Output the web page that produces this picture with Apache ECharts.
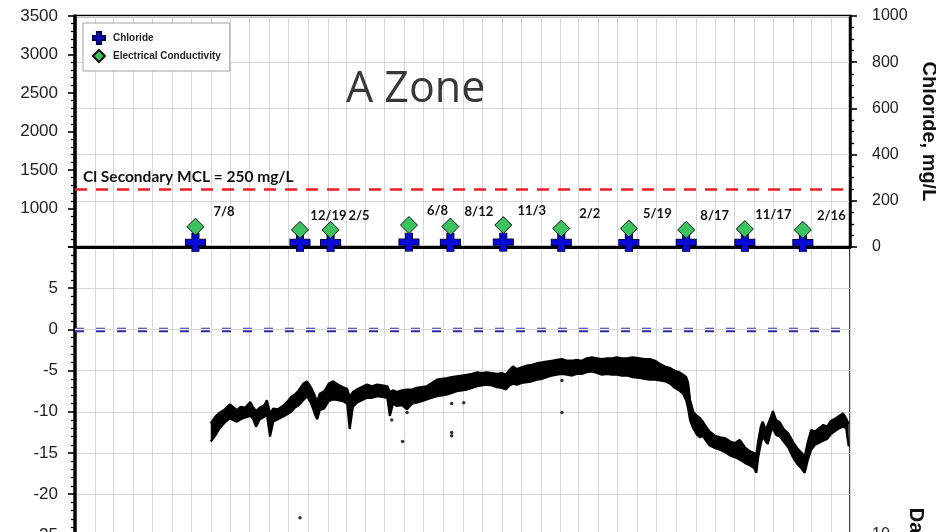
<!DOCTYPE html>
<html>
<head>
<meta charset="utf-8">
<script src="https://cdn.jsdelivr.net/npm/echarts@6/dist/echarts.min.js"></script>
<style>
  html, body { margin: 0; padding: 0; background: #fff; }
  #chart { width: 936px; height: 532px; }
</style>
</head>
<body>
<div id="chart"></div>
<script>
// Sampling events (top panel)
const sampleDates = ['2016-07-08', '2016-12-19', '2017-02-05', '2017-06-08', '2017-08-12', '2017-11-03',
                     '2018-02-02', '2018-05-19', '2018-08-17', '2018-11-17', '2019-02-16'];
const conductivity = [763, 722, 722, 785, 765, 785, 740, 740, 722, 733, 722];   // left axis
const chloride     = [20, 20, 19, 21, 20, 21, 20, 19, 20, 20, 19];              // mg/L, right axis
const chlorideMCL = 250;

// Continuous water level record (daily high / low envelope)
const levelDates = [
  '2016-08-01','2016-08-08','2016-08-15','2016-08-23','2016-08-31','2016-09-11','2016-09-17','2016-09-24',
  '2016-10-02','2016-10-06','2016-10-11','2016-10-17','2016-10-24','2016-10-28','2016-11-02','2016-11-07',
  '2016-11-14','2016-11-22','2016-11-29','2016-12-05','2016-12-11','2016-12-17','2016-12-24','2016-12-30',
  '2017-01-05','2017-01-11','2017-01-15','2017-01-19','2017-01-26','2017-02-02','2017-02-09','2017-02-17',
  '2017-02-24','2017-03-03','2017-03-07','2017-03-12','2017-03-18','2017-03-26','2017-04-03','2017-04-11',
  '2017-04-19','2017-04-27','2017-05-05','2017-05-09','2017-05-14','2017-05-20','2017-05-28','2017-06-05',
  '2017-06-13','2017-06-20','2017-06-28','2017-07-06','2017-07-14','2017-07-22','2017-07-30','2017-08-07',
  '2017-08-14','2017-08-22','2017-08-30','2017-09-07','2017-09-15','2017-09-23','2017-09-30','2017-10-08',
  '2017-10-16','2017-10-24','2017-11-01','2017-11-07','2017-11-13','2017-11-18','2017-11-24','2017-12-02',
  '2017-12-10','2017-12-18','2017-12-26','2018-01-03','2018-01-10','2018-01-18','2018-01-26','2018-02-03',
  '2018-02-11','2018-02-19','2018-02-26','2018-03-06','2018-03-14','2018-03-22','2018-03-30','2018-04-07',
  '2018-04-15','2018-04-22','2018-04-30','2018-05-08','2018-05-16','2018-05-25','2018-06-05','2018-06-13',
  '2018-06-21','2018-06-29','2018-07-07','2018-07-15','2018-07-23','2018-07-30','2018-08-06','2018-08-12',
  '2018-08-17','2018-08-20','2018-08-23','2018-08-28','2018-09-03','2018-09-08','2018-09-12','2018-09-17',
  '2018-09-23','2018-10-01','2018-10-09','2018-10-17','2018-10-25','2018-11-01','2018-11-09','2018-11-17',
  '2018-11-25','2018-12-01','2018-12-05','2018-12-08','2018-12-12','2018-12-15','2018-12-20','2018-12-23',
  '2018-12-28','2018-12-31','2019-01-05','2019-01-11','2019-01-17','2019-01-24','2019-02-01','2019-02-07',
  '2019-02-13','2019-02-19','2019-02-24','2019-03-01','2019-03-07','2019-03-13','2019-03-20','2019-03-26',
  '2019-04-01','2019-04-08','2019-04-14','2019-04-20','2019-04-25','2019-04-29'
];
const levelHigh = [
  -11.4,-10.6,-10.1,-9.7,-9.1,-9.8,-9.4,-9.5,
  -8.8,-9.4,-9.9,-9.5,-9.2,-8.6,-10.2,-9.6,
  -9.7,-9.3,-8.8,-8.2,-7.9,-7.4,-6.6,-6.3,
  -7.0,-8.0,-8.8,-7.8,-7.5,-6.6,-6.3,-6.7,
  -7.0,-7.2,-8.2,-7.6,-7.3,-7.0,-6.7,-6.9,
  -6.7,-6.8,-6.9,-7.6,-7.4,-7.6,-7.4,-7.3,
  -7.3,-7.1,-7.0,-6.9,-6.5,-6.1,-6.0,-5.9,
  -5.8,-5.7,-5.6,-5.5,-5.4,-5.2,-5.3,-5.2,
  -5.3,-5.4,-5.3,-5.5,-4.9,-4.5,-4.8,-4.6,
  -4.4,-4.3,-4.1,-4.0,-3.9,-3.8,-3.7,-3.6,
  -3.8,-3.8,-3.7,-3.8,-3.5,-3.4,-3.5,-3.6,
  -3.5,-3.5,-3.4,-3.5,-3.5,-3.4,-3.5,-3.6,
  -3.6,-3.8,-4.2,-4.5,-4.7,-5.0,-5.2,-5.5,
  -5.8,-6.5,-8.5,-10.0,-10.5,-10.8,-11.2,-11.8,
  -12.4,-12.9,-13.1,-13.2,-13.6,-13.8,-13.4,-14.3,
  -14.8,-15.0,-15.2,-13.5,-11.8,-11.2,-12.2,-12.3,
  -10.6,-9.9,-11.0,-11.3,-12.1,-12.6,-13.7,-14.4,
  -14.9,-15.4,-13.6,-12.2,-12.4,-12.0,-11.6,-11.8,
  -11.1,-10.8,-10.5,-10.2,-10.8,-11.5
];
const levelLow = [
  -13.6,-12.9,-12.0,-11.3,-10.8,-11.2,-10.9,-10.7,
  -10.5,-10.8,-11.8,-10.9,-10.6,-10.3,-13.0,-11.2,
  -10.9,-10.6,-10.3,-10.0,-9.5,-9.2,-8.6,-8.1,
  -8.9,-10.2,-10.9,-9.8,-9.6,-8.7,-8.5,-8.6,
  -8.7,-9.0,-12.1,-9.4,-8.9,-8.6,-8.3,-8.3,
  -8.1,-8.2,-8.3,-10.5,-9.0,-9.3,-9.2,-9.7,
  -9.0,-8.9,-8.7,-8.5,-8.3,-8.1,-8.0,-7.9,
  -7.7,-7.5,-7.4,-7.3,-7.1,-6.9,-6.8,-6.7,
  -6.8,-7.0,-7.1,-7.3,-6.8,-6.6,-6.7,-6.5,
  -6.4,-6.3,-6.1,-6.0,-5.8,-5.6,-5.5,-5.4,
  -5.5,-5.6,-5.4,-5.4,-5.2,-5.1,-5.3,-5.5,
  -5.4,-5.5,-5.5,-5.6,-5.6,-5.8,-5.9,-6.0,
  -6.1,-6.1,-6.2,-6.3,-6.6,-7.1,-7.4,-7.8,
  -8.6,-9.6,-11.0,-12.0,-12.8,-13.1,-12.9,-13.5,
  -14.1,-14.4,-14.6,-14.9,-15.3,-15.5,-15.8,-16.2,
  -16.5,-16.8,-17.4,-15.5,-13.9,-13.0,-13.6,-13.9,
  -12.4,-12.0,-12.8,-13.0,-13.6,-14.3,-15.6,-16.3,
  -16.8,-17.4,-15.8,-14.6,-14.0,-13.8,-13.5,-13.3,
  -12.7,-12.3,-12.0,-11.8,-12.0,-14.2
];
// Isolated readings away from the main record
const spikeDates  = ['2016-12-19','2017-05-12','2017-05-29','2017-06-05','2017-08-14','2017-08-14','2017-08-14',
                     '2017-09-02','2018-02-03','2018-02-03'];
const spikeValues = [-22.85, -11.0, -13.6, -10.1, -9.0, -12.5, -12.9, -8.9, -6.2, -10.1];

const axisFont = 'Liberation Sans, Arial, sans-serif';
const noteFont = 'Lato, Carlito, sans-serif';
const xMin = '2016-01-01', xMax = '2019-05-01';
const DAY = 86400000;
const gridGray = '#d6d6d6';
const plainNumber = v => String(v);

function mdLabel(iso) {
  const p = iso.split('-');
  return parseInt(p[1], 10) + '/' + parseInt(p[2], 10);
}

const crossPath = 'path://M6.5,0H13.5V6.5H20V13.5H13.5V20H6.5V13.5H0V6.5H6.5Z';

function timeAxis(gridIndex, showLine) {
  return {
    type: 'time', gridIndex: gridIndex, min: xMin, max: xMax,
    minInterval: 28 * DAY, maxInterval: 31 * DAY,
    axisLabel: { show: false }, axisTick: { show: false },
    axisLine: { show: showLine, onZero: false, lineStyle: { color: '#000', width: 3 } },
    splitLine: { show: gridIndex !== 2, lineStyle: { color: gridGray, width: 1 } },
    show: gridIndex !== 2
  };
}

const chart = echarts.init(document.getElementById('chart'), null, { renderer: 'canvas' });

chart.setOption({
  animation: false,
  backgroundColor: '#fff',
  title: {
    text: 'A Zone', left: 346, top: 68, padding: 0,
    textStyle: { fontFamily: 'Open Sans, sans-serif', fontSize: 43, fontWeight: 'normal', color: '#383838' }
  },
  legend: {
    data: ['Chloride', 'Electrical Conductivity'],
    orient: 'vertical', left: 83, top: 23,
    padding: [8, 9, 8, 9], itemGap: 4, itemWidth: 12, itemHeight: 12,
    backgroundColor: '#fff', borderColor: '#a0a0a0', borderWidth: 1,
    textStyle: { fontFamily: axisFont, fontSize: 10, fontWeight: 'bold', color: '#222', padding: [0, 0, 0, 3] }
  },
  grid: [
    { left: 75, right: 86, top: 16, height: 231, show: true, borderColor: '#000', borderWidth: 2.5, outerBoundsMode: 'none' },
    { left: 75, right: 86, top: 247, height: 329.6, show: true, borderColor: '#000', borderWidth: 1.5, outerBoundsMode: 'none' },
    { left: 75, right: 86, top: 535, height: 100, show: false, outerBoundsMode: 'none' }
  ],
  xAxis: [timeAxis(0, true), timeAxis(1, false), timeAxis(2, false)],
  yAxis: [
    { // conductivity
      type: 'value', gridIndex: 0, position: 'left', min: 500, max: 3500, interval: 500,
      axisLine: { show: true, lineStyle: { color: '#000', width: 3.5 } },
      axisTick: { show: true, inside: false, length: 7, lineStyle: { color: '#000', width: 1.6 } },
      minorTick: { show: true, splitNumber: 5, length: 4, lineStyle: { color: '#000', width: 1.3 } },
      axisLabel: { fontFamily: axisFont, fontSize: 17, color: '#222', margin: 17, showMinLabel: false, formatter: plainNumber },
      splitLine: { show: false }
    },
    { // chloride
      type: 'value', gridIndex: 0, position: 'right', min: 0, max: 1000, interval: 200,
      axisLine: { show: true, lineStyle: { color: '#000', width: 2.5 } },
      axisTick: { show: true, inside: false, length: 7, lineStyle: { color: '#000', width: 1.6 } },
      minorTick: { show: true, splitNumber: 4, length: 4, lineStyle: { color: '#000', width: 1.3 } },
      axisLabel: { fontFamily: axisFont, fontSize: 16, color: '#222', margin: 22, formatter: plainNumber },
      splitLine: { show: true, lineStyle: { color: gridGray, width: 1.2 } },
      name: 'Chloride, mg/L', nameLocation: 'middle', nameRotate: -90, nameGap: 57,
      nameTextStyle: { fontFamily: axisFont, fontSize: 20, fontWeight: 'bold', color: '#111' }
    },
    { // water level
      type: 'value', gridIndex: 1, position: 'left', min: -30, max: 10, interval: 5,
      axisLine: { show: true, onZero: false, lineStyle: { color: '#000', width: 3.5 } },
      axisTick: { show: true, inside: false, length: 7, lineStyle: { color: '#000', width: 1.6 } },
      minorTick: { show: true, splitNumber: 5, length: 4, lineStyle: { color: '#000', width: 1.3 } },
      axisLabel: { fontFamily: axisFont, fontSize: 17, color: '#222', margin: 17, showMaxLabel: false, formatter: plainNumber },
      splitLine: { show: true, lineStyle: { color: gridGray, width: 1.2 } }
    },
    { // rainfall (panel below)
      type: 'value', gridIndex: 2, position: 'right', min: 0, max: 10, interval: 10,
      axisLine: { show: true, lineStyle: { color: '#000', width: 2 } },
      axisTick: { show: true, inside: false, length: 7, lineStyle: { color: '#000', width: 1.6 } },
      axisLabel: { fontFamily: axisFont, fontSize: 16, color: '#222', margin: 22, showMinLabel: false, formatter: plainNumber },
      splitLine: { show: false },
      name: 'Daily Rainfall, in', nameLocation: 'middle', nameRotate: -90, nameGap: 56,
      nameTextStyle: { fontFamily: axisFont, fontSize: 20, fontWeight: 'bold', color: '#111' }
    }
  ],
  series: [
    {
      name: 'Chloride', type: 'scatter', xAxisIndex: 0, yAxisIndex: 1, z: 4,
      symbol: crossPath, symbolSize: [20, 18],
      itemStyle: { color: '#0a0ad6', borderColor: '#00004a', borderWidth: 1, opacity: 1 },
      data: sampleDates.map((d, i) => [d, chloride[i]]),
      markLine: {
        silent: true, symbol: ['none', 'none'],
        lineStyle: { color: '#ee1d23', width: 2.5, type: [12, 9] },
        label: {
          show: true, position: 'insideStartTop', distance: [8, 4],
          formatter: 'Cl Secondary MCL = ' + chlorideMCL + ' mg/L',
          fontFamily: noteFont, fontSize: 15.5, fontWeight: 'bold', color: '#111'
        },
        data: [{ yAxis: chlorideMCL }]
      }
    },
    {
      name: 'Electrical Conductivity', type: 'scatter', xAxisIndex: 0, yAxisIndex: 0, z: 5,
      symbol: 'diamond', symbolSize: [17, 17],
      itemStyle: { color: '#3cc25f', borderColor: '#111', borderWidth: 1, opacity: 1 },
      label: {
        show: true, position: [37.5, -5.5], align: 'center', verticalAlign: 'middle',
        formatter: p => mdLabel(sampleDates[p.dataIndex]),
        fontFamily: noteFont, fontSize: 13, fontWeight: 'bold', color: '#111'
      },
      data: sampleDates.map((d, i) => [d, conductivity[i]])
    },
    {
      name: 'Level low', type: 'line', xAxisIndex: 1, yAxisIndex: 2,
      stack: 'level', stackStrategy: 'all', symbol: 'none', z: 3,
      lineStyle: { color: '#000', width: 2.2 },
      data: levelDates.map((d, i) => [d, levelLow[i]]),
      markLine: {
        silent: true, symbol: ['none', 'none'], label: { show: false },
        data: [
          { yAxis: 0, lineStyle: { color: '#2a2aa8', width: 4.4, type: [9, 12] } },
          { yAxis: 0, lineStyle: { color: '#ffffff', width: 1.4, type: [9, 12] } }
        ]
      }
    },
    {
      name: 'Level range', type: 'line', xAxisIndex: 1, yAxisIndex: 2,
      stack: 'level', stackStrategy: 'all', symbol: 'none', z: 3,
      lineStyle: { color: '#000', width: 2.2 },
      areaStyle: { color: '#000', opacity: 1 },
      data: levelDates.map((d, i) => [d, +(levelHigh[i] - levelLow[i]).toFixed(2)])
    },
    {
      name: 'Isolated readings', type: 'scatter', xAxisIndex: 1, yAxisIndex: 2, z: 3,
      symbol: 'circle', symbolSize: 3.5,
      itemStyle: { color: '#000' },
      data: spikeDates.map((d, i) => [d, spikeValues[i]])
    }
  ]
});
</script>
</body>
</html>
